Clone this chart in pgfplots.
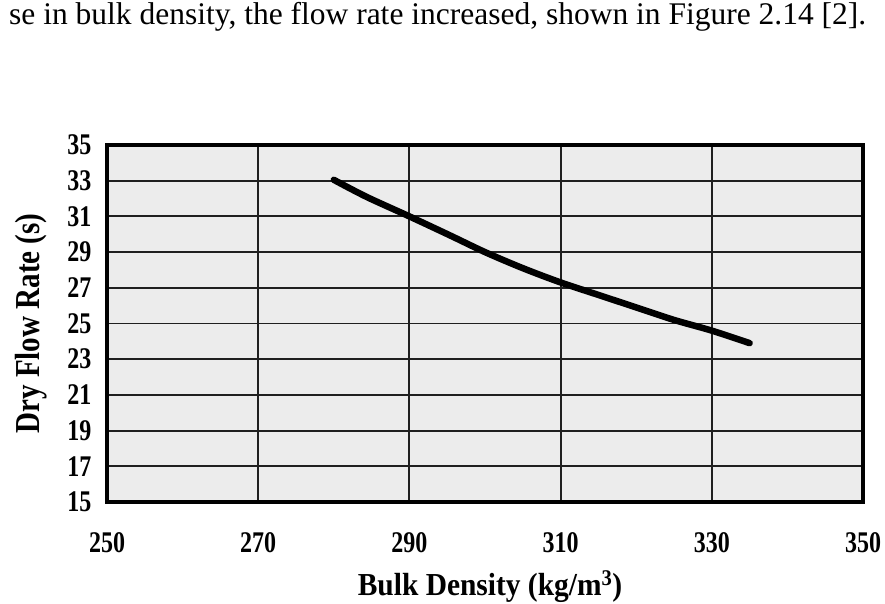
\documentclass[border=0pt]{standalone}
\usepackage{fontspec}
\setmainfont{Liberation Serif}
\usepackage{graphicx}
\usepackage{pgfplots}
\pgfplotsset{compat=1.18}
\begin{document}
\begin{tikzpicture}
\path[use as bounding box] (0pt,0pt) rectangle (885pt,604pt);
\node[anchor=base west, inner sep=0pt] at (9pt,579pt) {\fontsize{31.5}{33}\selectfont se in bulk density, the flow rate increased, shown in Figure 2.14 [2].};
\begin{axis}[
  at={(107pt,102pt)}, anchor=south west,
  scale only axis, width=756pt, height=357pt,
  xmin=250, xmax=350, ymin=15, ymax=35,
  xtick={250,270,...,350}, ytick={15,17,...,35},
  grid=major,
  major grid style={draw=black!88, line width=1.9pt},
  axis line style={line width=4.5pt},
  axis background/.style={fill=black!7.5},
  tick style={draw=none},
  /pgf/number format/assume math mode=true,
  /pgf/number format/1000 sep={},
  tick label style={font=\fontsize{30}{30}\selectfont\bfseries, xscale=0.8},
  yticklabel style={xshift=-16pt},
  xticklabel style={yshift=-27pt},
  xlabel={Bulk Density (kg/m\textsuperscript{3})},
  ylabel={Dry Flow Rate (s)},
  xlabel style={font=\fontsize{32}{34}\selectfont\bfseries, at={(rel axis cs:0.5,0)}, anchor=base, yshift=-93pt, xshift=5pt, xscale=0.92},
  ylabel style={font=\fontsize{35}{37}\selectfont\bfseries, at={(rel axis cs:0,0.5)}, rotate=0, anchor=base, yshift=67pt, xscale=0.83},
]
\addplot[black, line width=6.5pt, smooth, line cap=round] coordinates {
 (280,33.05) (284.3,32.1) (290,31.0) (295.3,29.95) (300,29.0) (305,28.1)
 (310,27.3) (315,26.6) (320,25.9) (325,25.2) (330,24.6) (335,23.9)
};
\draw[line width=4.5pt] (rel axis cs:0,0) rectangle (rel axis cs:1,1);
\end{axis}
\end{tikzpicture}
\end{document}
